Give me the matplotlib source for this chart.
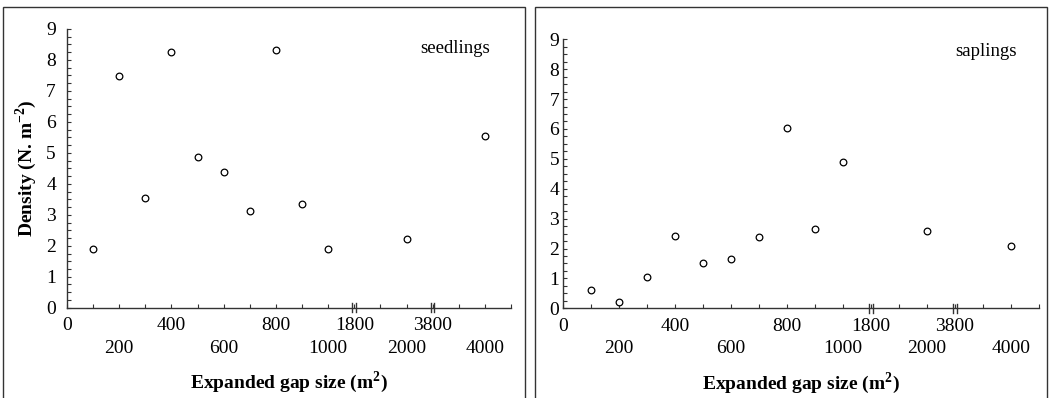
import matplotlib.pyplot as plt
import numpy as np
from matplotlib.patches import Rectangle
from matplotlib.ticker import MultipleLocator

plt.rcParams['font.family'] = ['Liberation Serif', 'DejaVu Serif']
plt.rcParams['mathtext.fontset'] = 'custom'
plt.rcParams['mathtext.rm'] = 'Liberation Serif'
plt.rcParams['mathtext.bf'] = 'Liberation Serif:bold'

# gap size classes (m2)
gap_size = [100, 200, 300, 400, 500, 600, 700, 800, 900, 1000, 2000, 4000]
seedlings = [1.9, 7.47, 3.55, 8.25, 4.88, 4.37, 3.13, 8.32, 3.35, 1.9, 2.23, 5.54]
saplings = [0.61, 0.22, 1.06, 2.43, 1.52, 1.64, 2.38, 6.02, 2.65, 4.88, 2.6, 2.09]

# tick labels sit on two rows
row1_ticks = [0, 400, 800, 1800, 3800]
row2_ticks = [200, 600, 1000, 2000, 4000]
plain_ticks = [100, 300, 500, 700, 900, 1900, 3900, 4100]

# broken x axis: 1100-1800 and 2100-3800 are cut out
cuts = [(1100, 1800), (2100, 3800)]


def fwd(x):
    x = np.asarray(x, dtype=float)
    u = np.minimum(x, 1100.0)
    u = np.where(x >= 1800, np.minimum(x, 2100.0) - 700, u)
    u = np.where(x >= 3800, x - 2400, u)
    return u


def inv(u):
    u = np.asarray(u, dtype=float)
    x = np.where(u > 1100, u + 700, u)
    x = np.where(u > 1400, u + 2400, x)
    return x


W, H = 1049, 398
fig = plt.figure(figsize=(W / 100, H / 100), dpi=100)

# panel frames
for x0, x1 in [(3, 525), (535, 1047)]:
    fig.patches.append(Rectangle((x0 / W, -0.05), (x1 - x0) / W, 1.05 - 7 / H,
                                 transform=fig.transFigure, fill=False,
                                 edgecolor='#333333', linewidth=1.0))

ax1 = fig.add_axes([67 / W, 1 - 307.7 / H, (511 - 67) / W, (307.7 - 29) / H])
ax2 = fig.add_axes([563.3 / W, 1 - 308.3 / H, (1039 - 563.3) / W, (308.3 - 39.3) / H])

fs = 14
panels = [(ax1, seedlings, 'seedlings', 0.93, 8), (ax2, saplings, 'saplings', 0.953, 3)]
for ax, vals, name, ty, ypad in panels:
    ax.set_xscale('function', functions=(fwd, inv))
    ax.plot(gap_size, vals, 'o', mfc='white', mec='black', ms=4.8, mew=0.9,
            clip_on=False, zorder=3)
    ax.set_xlim(0, 4100)
    ax.set_ylim(0, 9)

    for s in ['top', 'right']:
        ax.spines[s].set_visible(False)
    for s in ['left', 'bottom']:
        ax.spines[s].set_color('#333333')
        ax.spines[s].set_linewidth(1.0)

    minor_pos = sorted(row2_ticks + plain_ticks)
    minor_lab = [str(t) if t in row2_ticks else '' for t in minor_pos]
    ax.set_xticks(row1_ticks, [str(t) for t in row1_ticks])
    ax.set_xticks(minor_pos, minor_lab, minor=True)
    ax.yaxis.set_major_locator(MultipleLocator(1))
    ax.yaxis.set_minor_locator(MultipleLocator(0.25))
    ax.tick_params(axis='x', which='major', direction='in', length=3, width=0.8,
                   color='#333333', labelsize=fs, pad=7)
    ax.tick_params(axis='x', which='minor', direction='in', length=3, width=0.8,
                   color='#333333', labelsize=fs, pad=23)
    ax.tick_params(axis='y', which='both', direction='in', length=3, width=0.8,
                   color='#333333', labelsize=fs, pad=ypad)

    # axis break marks
    for a, b in cuts:
        xb = fwd(a)
        for dx in (-7, 7):
            ax.plot(inv([xb + dx, xb + dx]), [-0.016, 0.016], color='#333333', lw=1.0,
                    transform=ax.get_xaxis_transform(), clip_on=False)

    ax.set_xlabel('Expanded gap size (m$^{\\mathbf{2}}$)', fontsize=fs, fontweight='bold')
    ax.text(0.953, ty, name, transform=ax.transAxes,
            ha='right', va='center', fontsize=13.5)

ax1.xaxis.set_label_coords(0.5, -0.222)
ax2.xaxis.set_label_coords(0.5, -0.229)
ax1.set_ylabel('Density (N. m$^{\\mathbf{-2}}$)', fontsize=fs, fontweight='bold')
ax1.yaxis.set_label_coords(-0.063, 0.5)

fig.savefig('out.png', dpi=100)
